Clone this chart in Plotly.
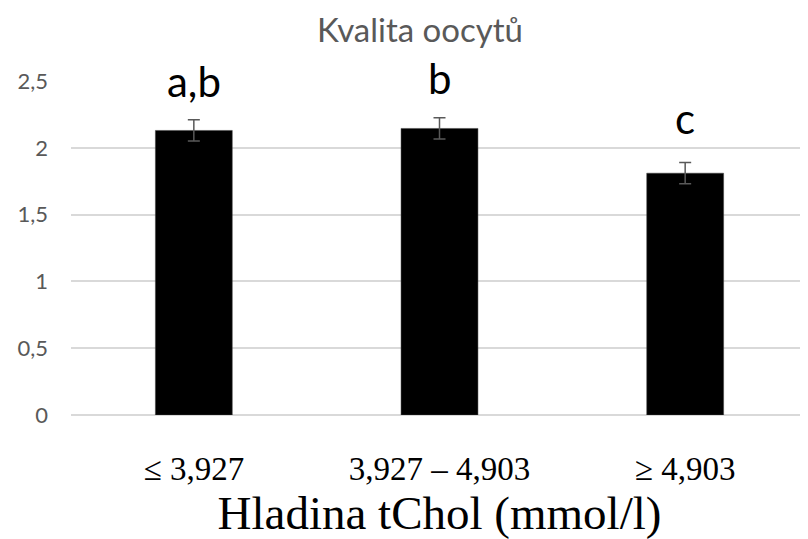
import plotly.graph_objects as go

categories = ["≤ 3,927", "3,927 – 4,903", "≥ 4,903"]
values = [2.13, 2.145, 1.81]
errors = [0.08, 0.08, 0.08]
letters = ["a,b", "b", "c"]
y_ticks = [0, 0.5, 1, 1.5, 2, 2.5]
y_tick_text = ["0", "0,5", "1", "1,5", "2", "2,5"]

# pixel offsets of the significance letters above the error bars (styling)
letter_shift = [12, 13, 18]

fig = go.Figure()
fig.add_trace(go.Bar(
    x=categories, y=values,
    marker=dict(color="#000000", line=dict(color="#404040", width=0.5)),
    error_y=dict(type="data", array=errors, visible=True,
                 color="#595959", thickness=1.5, width=6),
))

for c, v, e, t, s in zip(categories, values, errors, letters, letter_shift):
    fig.add_annotation(x=c, y=v + e, xref="x", yref="y", text=t,
                       showarrow=False, yanchor="bottom", yshift=s,
                       font=dict(family="Lato", size=42, color="#000000"))

fig.update_layout(
    width=800, height=531,
    margin=dict(l=63, r=0, t=73, b=124),
    paper_bgcolor="white", plot_bgcolor="white",
    bargap=0.687,
    showlegend=False,
    title=dict(text="Kvalita oocytů", xref="container", x=0.515,
               xanchor="center", yref="container", y=0.9586, yanchor="middle",
               font=dict(family="Lato", size=33, color="#595959")),
    xaxis=dict(
        showgrid=False, showline=False, zeroline=False,
        ticks="outside", ticklen=0, ticklabelstandoff=24,
        tickfont=dict(family="Liberation Serif", size=33, color="#000000"),
        title=dict(text="Hladina tChol (mmol/l)", standoff=0,
                   font=dict(family="Liberation Serif", size=47, color="#000000")),
    ),
    yaxis=dict(
        range=[0, 2.5], tickvals=y_ticks, ticktext=y_tick_text,
        showgrid=True, gridcolor="#d9d9d9", gridwidth=1.5,
        zeroline=True, zerolinecolor="#d9d9d9", zerolinewidth=1.5,
        showline=False, ticks="", ticklabelstandoff=22,
        tickfont=dict(family="Lato", size=22, color="#595959"),
    ),
)

fig.write_html("out.html")
